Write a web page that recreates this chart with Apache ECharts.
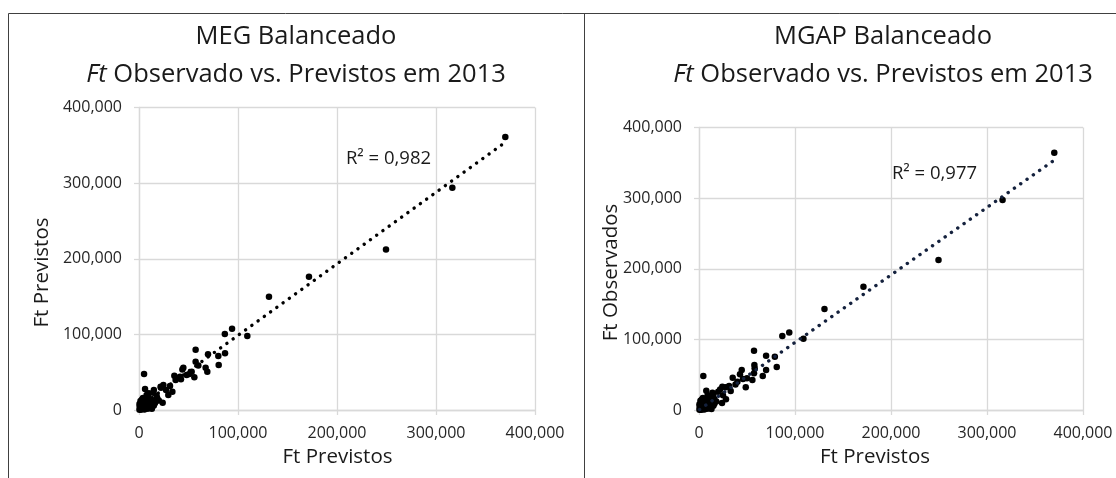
<!DOCTYPE html>
<html>
<head>
<meta charset="utf-8">
<script src="https://cdn.jsdelivr.net/npm/echarts@6/dist/echarts.min.js"></script>
<style>
html,body{margin:0;padding:0;background:#fff;}
#c{width:1116px;height:478px;}
</style>
</head>
<body>
<div id="c"></div>
<script>
// ---- data ----
const axisTicks = [0, 100000, 200000, 300000, 400000];

const megPoints = [
  [370000, 361000], [316500, 294000], [249500, 212300], [171700, 176200],
  [131300, 149800], [94000, 107500], [86700, 100500], [109400, 97800],
  [57200, 79700], [69700, 73600], [80100, 71400], [86900, 74900],
  [80500, 59500], [57200, 63900], [59900, 59000], [67300, 55900],
  [69000, 50700], [44800, 55900], [43800, 53700], [53200, 50700],
  [50800, 47600], [48100, 46300], [41400, 44100], [42400, 40500],
  [55900, 43200], [35700, 45400], [5100, 47600], [24600, 33000],
  [31300, 31700], [22200, 29500], [27300, 26400], [33700, 24200],
  [29600, 19800], [23900, 9700], [6100, 27800], [7700, 19800],
  [14500, 22900], [17800, 18500], [12800, 13200], [11100, 6600],
  [37000, 39600], [21800, 30800], [15000, 26400], [10000, 22000],
  [18400, 15400], [13400, 4400], [20000, 12500], [16500, 10500],
  [1000, 2000], [2000, 1000], [3000, 4000], [500, 8000], [1500, 12000],
  [2500, 6000], [4000, 2000], [5000, 5000], [6000, 3000], [7000, 8000],
  [8000, 4000], [9000, 10000], [10000, 7000], [12000, 9000], [14000, 11000],
  [3000, 14000], [4500, 10000], [6000, 12000], [8000, 14000], [9500, 2000],
  [11000, 4000], [13000, 1500], [15000, 6000], [16000, 9000], [2000, 500],
  [500, 300], [1200, 3500], [3500, 1200], [700, 5000], [5500, 800],
  [7500, 1800], [4000, 16000], [2000, 9500], [9000, 17000], [11500, 11000]
];

const mgapPoints = [
  [370100, 364200], [316200, 297200], [249500, 212300], [171300, 174500],
  [130700, 142900], [94000, 109900], [86800, 104700], [108800, 100900],
  [57300, 84000], [69900, 76900], [79000, 75500], [81000, 60800],
  [69900, 56600], [57700, 63700], [58000, 59000], [44500, 56600],
  [42700, 50500], [66400, 48100], [55600, 42500], [57300, 51900],
  [48700, 32100], [35100, 45800], [4500, 48100], [24300, 33000],
  [27800, 32100], [31300, 34000], [28100, 15100], [7600, 27400],
  [45800, 44000], [40000, 40000], [50000, 45000], [15000, 22000],
  [20000, 26000], [12000, 18000], [18000, 12000], [25000, 21000],
  [33000, 27000], [38000, 36000], [22000, 29000], [14000, 24500],
  [9000, 21000], [16000, 15500], [11000, 7000], [24000, 10000],
  [1000, 2000], [2000, 1000], [3000, 4000], [500, 8000], [1500, 13000],
  [2500, 6000], [4000, 2000], [5000, 5000], [6000, 3000], [7000, 8000],
  [8000, 4000], [9000, 10000], [10000, 7000], [12000, 9000], [14000, 11000],
  [3000, 15000], [4500, 10000], [6000, 12000], [8000, 14000], [9500, 2000],
  [11000, 4000], [13000, 1500], [15000, 6000], [16000, 9000], [2000, 500],
  [500, 300], [1200, 3500], [3500, 1200], [700, 5000], [5500, 800],
  [7500, 1800], [4000, 17000], [2000, 9500], [10000, 16000], [12500, 12500]
];

// trendline end points
const megTrend = [[500, 4500], [370000, 354000]];
const mgapTrend = [[500, 500], [370100, 353800]];

const titles = ['MEG Balanceado', 'MGAP Balanceado'];
const subtitleItalic = 'Ft';
const subtitleRest = ' Observado vs. Previstos em 2013';
const xNames = ['Ft Previstos', 'Ft Previstos'];
const yNames = ['Ft Previstos', 'Ft Observados'];
const r2Labels = ['R² = 0,982', 'R² = 0,977'];

// ---- chart ----
const FONT = "'Open Sans', sans-serif";
const GRID_COLOR = '#d9d9d9';
const TEXT = '#262626';
const fmt = v => v.toLocaleString('en-US');

function xAxis(gi) {
  return {
    type: 'value', gridIndex: gi, min: axisTicks[0], max: axisTicks[axisTicks.length - 1],
    interval: axisTicks[1] - axisTicks[0],
    axisLine: { show: true, lineStyle: { color: GRID_COLOR, width: 1.3 } },
    axisTick: { show: true, length: 5, lineStyle: { color: GRID_COLOR, width: 1.3 } },
    splitLine: { show: true, lineStyle: { color: GRID_COLOR, width: 1.3 } },
    axisLabel: { formatter: fmt, color: TEXT, fontFamily: FONT, fontSize: 16, margin: 15, showMaxLabel: true, showMinLabel: true }
  };
}
function yAxis(gi) {
  return {
    type: 'value', gridIndex: gi, min: axisTicks[0], max: axisTicks[axisTicks.length - 1],
    interval: axisTicks[1] - axisTicks[0],
    axisLine: { show: true, lineStyle: { color: GRID_COLOR, width: 1.3 } },
    axisTick: { show: true, length: 5, lineStyle: { color: GRID_COLOR, width: 1.3 } },
    splitLine: { show: true, lineStyle: { color: GRID_COLOR, width: 1.3 } },
    axisLabel: { formatter: fmt, color: TEXT, fontFamily: FONT, fontSize: 16, margin: 17 }
  };
}
function scatter(gi, data) {
  return {
    type: 'scatter', xAxisIndex: gi, yAxisIndex: gi, data: data,
    symbol: 'circle', symbolSize: 6.5, itemStyle: { color: '#000', opacity: 1 }, z: 2, silent: true
  };
}
function trend(gi, data, color) {
  return {
    type: 'line', xAxisIndex: gi, yAxisIndex: gi, data: data, showSymbol: false,
    lineStyle: { color: color, width: 3.4, type: [0.1, 7.6], cap: 'round', opacity: 1 }, z: 3, silent: true
  };
}

function textEl(x, y, text, size, rotation) {
  return {
    type: 'text', x: x, y: y, rotation: rotation || 0, silent: true,
    style: { text: text, fill: '#1a1a1a', font: size + 'px ' + FONT, align: 'center', verticalAlign: 'middle' }
  };
}
function subtitleEl(x, y) {
  return {
    type: 'text', x: x, y: y, silent: true,
    style: {
      text: '{i|' + subtitleItalic + '}{n|' + subtitleRest + '}',
      align: 'center', verticalAlign: 'middle',
      rich: {
        i: { fontFamily: FONT, fontSize: 25.5, fontStyle: 'italic', fill: '#1a1a1a', color: '#1a1a1a' },
        n: { fontFamily: FONT, fontSize: 25.5, fill: '#1a1a1a', color: '#1a1a1a' }
      }
    }
  };
}
function lineEl(x1, y1, x2, y2) {
  return { type: 'line', silent: true, shape: { x1: x1, y1: y1, x2: x2, y2: y2 }, style: { stroke: '#404040', lineWidth: 1 } };
}

const chart = echarts.init(document.getElementById('c'), null, { renderer: 'canvas' });
chart.setOption({
  animation: false,
  backgroundColor: '#fff',
  grid: [
    { left: 139, top: 107.5, width: 396, height: 302.5 },
    { left: 699, top: 127.5, width: 384, height: 282.5 }
  ],
  xAxis: [xAxis(0), xAxis(1)],
  yAxis: [yAxis(0), yAxis(1)],
  series: [
    scatter(0, megPoints), trend(0, megTrend, '#000000'),
    scatter(1, mgapPoints), trend(1, mgapTrend, '#14213d')
  ],
  graphic: [
    lineEl(8.5, 13.5, 1116, 13.5),
    lineEl(8.5, 13.5, 8.5, 478),
    lineEl(584.5, 13.5, 584.5, 478),
    textEl(296, 37, titles[0], 25.5),
    subtitleEl(296, 75),
    textEl(883, 37, titles[1], 25.5),
    subtitleEl(883, 75),
    textEl(337.5, 457, xNames[0], 20.5),
    textEl(875, 457, xNames[1], 20.5),
    textEl(42, 272.5, yNames[0], 20.5, Math.PI / 2),
    textEl(611, 272.5, yNames[1], 20.5, Math.PI / 2),
    textEl(388.5, 158.5, r2Labels[0], 18.5),
    textEl(934.5, 174, r2Labels[1], 18.5)
  ]
});
</script>
</body>
</html>
